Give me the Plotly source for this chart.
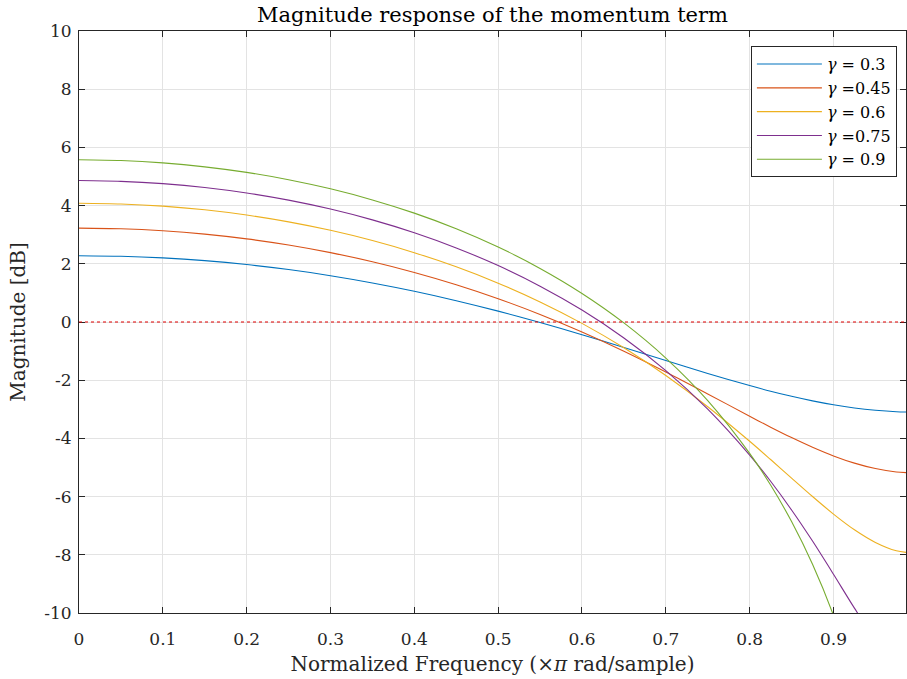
import plotly.graph_objects as go

# Normalized frequency (x pi rad/sample)
freq = [0.0, 0.05, 0.1, 0.15, 0.2, 0.25, 0.3, 0.35, 0.4, 0.45, 0.5,
        0.55, 0.6, 0.65, 0.7, 0.75, 0.8, 0.825, 0.85, 0.875, 0.9, 0.925, 0.95, 0.975, 1.0]

# Magnitude [dB] for each gamma
mag_g030 = [2.279, 2.260, 2.203, 2.108, 1.974, 1.802, 1.592, 1.343, 1.057, 0.733, 0.374,
            -0.017, -0.436, -0.874, -1.323, -1.767, -2.185, -2.378, -2.554, -2.711, -2.845,
            -2.954, -3.033, -3.082, -3.098]
mag_g045 = [3.227, 3.204, 3.135, 3.020, 2.857, 2.646, 2.384, 2.071, 1.704, 1.282, 0.801,
            0.260, -0.342, -1.002, -1.717, -2.471, -3.239, -3.614, -3.973, -4.306, -4.602,
            -4.850, -5.037, -5.153, -5.193]
mag_g060 = [4.082, 4.057, 3.982, 3.855, 3.675, 3.441, 3.150, 2.799, 2.383, 1.897, 1.335,
            0.690, -0.047, -0.887, -1.840, -2.912, -4.099, -4.726, -5.364, -5.997, -6.601,
            -7.141, -7.575, -7.860, -7.959]
mag_g075 = [4.861, 4.834, 4.755, 4.623, 4.434, 4.188, 3.881, 3.509, 3.067, 2.546, 1.938,
            1.231, 0.410, -0.548, -1.670, -2.994, -4.572, -5.474, -6.459, -7.528, -8.668,
            -9.832, -10.917, -11.731, -12.041]
mag_g090 = [5.575, 5.548, 5.468, 5.332, 5.141, 4.890, 4.576, 4.195, 3.741, 3.205, 2.577,
            1.842, 0.982, -0.031, -1.238, -2.699, -4.513, -5.603, -6.858, -8.327, -10.084,
            -12.238, -14.926, -18.086, -20.0]

series_names = ["<i>γ</i> = 0.3", "<i>γ</i> =0.45", "<i>γ</i> = 0.6", "<i>γ</i> =0.75", "<i>γ</i> = 0.9"]
series_vals = [mag_g030, mag_g045, mag_g060, mag_g075, mag_g090]
colors = ["#0072BD", "#D95319", "#EDB120", "#7E2F8E", "#77AC30"]

x_ticks = [0, 0.1, 0.2, 0.3, 0.4, 0.5, 0.6, 0.7, 0.8, 0.9]
x_ticklabels = ["0", "0.1", "0.2", "0.3", "0.4", "0.5", "0.6", "0.7", "0.8", "0.9"]
y_ticks = [-10, -8, -6, -4, -2, 0, 2, 4, 6, 8, 10]
y_ticklabels = ["-10", "-8", "-6", "-4", "-2", "0", "2", "4", "6", "8", "10"]

FONT = "DejaVu Serif"
AX = "#262626"

fig = go.Figure()
for name, vals, col in zip(series_names, series_vals, colors):
    fig.add_trace(go.Scatter(x=freq, y=vals, mode="lines", name=name,
                             line=dict(color=col, width=1.1, shape="spline", smoothing=0.8)))

fig.add_hline(y=0, line=dict(color="#e00000", width=1.1, dash="dot"), layer="above")

axis_common = dict(showline=True, mirror="ticks", linecolor=AX, linewidth=1,
                   ticks="inside", ticklen=6, tickcolor=AX, tickwidth=1,
                   showgrid=True, gridcolor="#e3e3e3", gridwidth=1, zeroline=False,
                   automargin=False,
                   tickfont=dict(family=FONT, size=17, color=AX))

fig.update_xaxes(range=[0, 0.9865], tickvals=x_ticks, ticktext=x_ticklabels,
                 title=dict(text="Normalized Frequency (×<i>π</i> rad/sample)",
                            font=dict(family=FONT, size=20, color=AX), standoff=8),
                 ticklabelstandoff=11, **axis_common)
fig.update_yaxes(range=[-10, 10], tickvals=y_ticks, ticktext=y_ticklabels,
                 title=dict(text="Magnitude [dB]", font=dict(family=FONT, size=20, color=AX), standoff=13),
                 ticklabelstandoff=3, **axis_common)

fig.update_layout(
    width=907, height=679,
    margin=dict(l=79, r=1, t=31, b=66),
    paper_bgcolor="white", plot_bgcolor="white",
    title=dict(text="Magnitude response of the momentum term", x=0.5, xref="paper", xanchor="center",
               yref="container", y=1 - 15 / 679, yanchor="middle",
               font=dict(family=FONT, size=21, color="black")),
    legend=dict(x=0.989, y=0.974, xanchor="right", yanchor="top",
                bgcolor="white", bordercolor=AX, borderwidth=1, itemwidth=65,
                font=dict(family=FONT, size=16, color="black")),
    showlegend=True,
)

fig.write_html("out.html", config={"displayModeBar": False},
               post_script="document.body.style.margin='0';")
